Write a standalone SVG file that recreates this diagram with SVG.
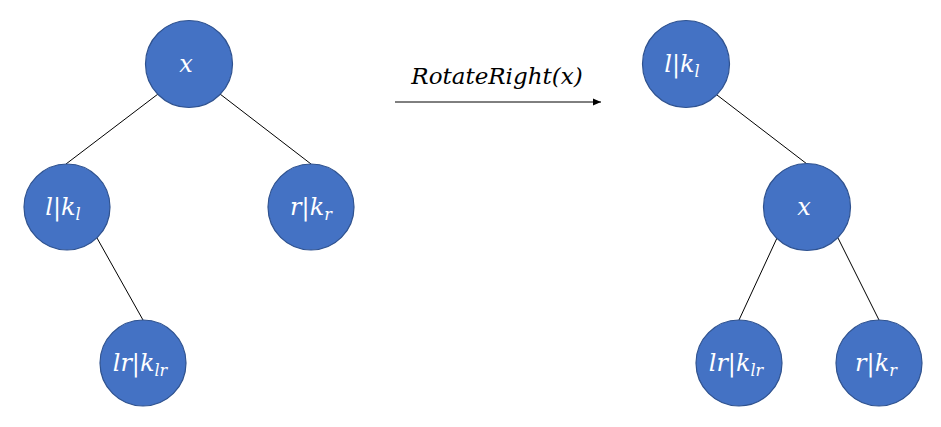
<svg xmlns="http://www.w3.org/2000/svg" width="941" height="427" viewBox="0 0 941 427">
<style>
.n{fill:#4472C4;stroke:#2F528F;stroke-width:1.2}
.t{font-family:"DejaVu Serif","Liberation Serif",serif;font-style:italic;font-size:24px;fill:#fff;text-anchor:middle}
.s{font-size:16px}
.e{stroke:#000;stroke-width:1;fill:none}
.lab{font-family:"DejaVu Serif","Liberation Serif",serif;font-style:italic;font-size:23px;fill:#000;text-anchor:middle}
</style>
<defs>
<marker id="ah" markerWidth="9" markerHeight="9" refX="8" refY="4.5" orient="auto" markerUnits="userSpaceOnUse">
<path d="M0,1 L8,4.5 L0,8 Z" fill="#000"/>
</marker>
</defs>
<g id="connectors">
<line class="e" x1="158" y1="94" x2="66" y2="164"/>
<line class="e" x1="220" y1="94" x2="311" y2="164"/>
<line class="e" x1="97" y1="238" x2="143" y2="320"/>
<line class="e" x1="717" y1="95" x2="807" y2="164"/>
<line class="e" x1="777" y1="238" x2="739" y2="320"/>
<line class="e" x1="838" y1="238" x2="879" y2="320"/>
<line class="e" x1="395" y1="102" x2="601" y2="102" stroke-width="1.5" marker-end="url(#ah)"/>
</g>
<text class="lab" x="497" y="84">RotateRight(x)</text>
<g id="L_x"><circle class="n" cx="189" cy="64" r="43.5"/><text class="t" x="186" y="72">x</text></g>
<g id="L_l"><circle class="n" cx="67" cy="207" r="43"/><text class="t" x="63" y="215">l|k<tspan class="s" dy="5">l</tspan></text></g>
<g id="L_r"><circle class="n" cx="311" cy="207" r="43"/><text class="t" x="311" y="215">r|k<tspan class="s" dy="5">r</tspan></text></g>
<g id="L_lr"><circle class="n" cx="143" cy="363" r="43"/><text class="t" x="140" y="371">lr|k<tspan class="s" dy="5">lr</tspan></text></g>
<g id="R_l"><circle class="n" cx="686" cy="64" r="43.5"/><text class="t" x="682" y="72">l|k<tspan class="s" dy="5">l</tspan></text></g>
<g id="R_x"><circle class="n" cx="807" cy="207" r="43.5"/><text class="t" x="804" y="215">x</text></g>
<g id="R_lr"><circle class="n" cx="739" cy="363" r="43"/><text class="t" x="736" y="371">lr|k<tspan class="s" dy="5">lr</tspan></text></g>
<g id="R_r"><circle class="n" cx="879" cy="363" r="43"/><text class="t" x="876" y="371">r|k<tspan class="s" dy="5">r</tspan></text></g>
</svg>
